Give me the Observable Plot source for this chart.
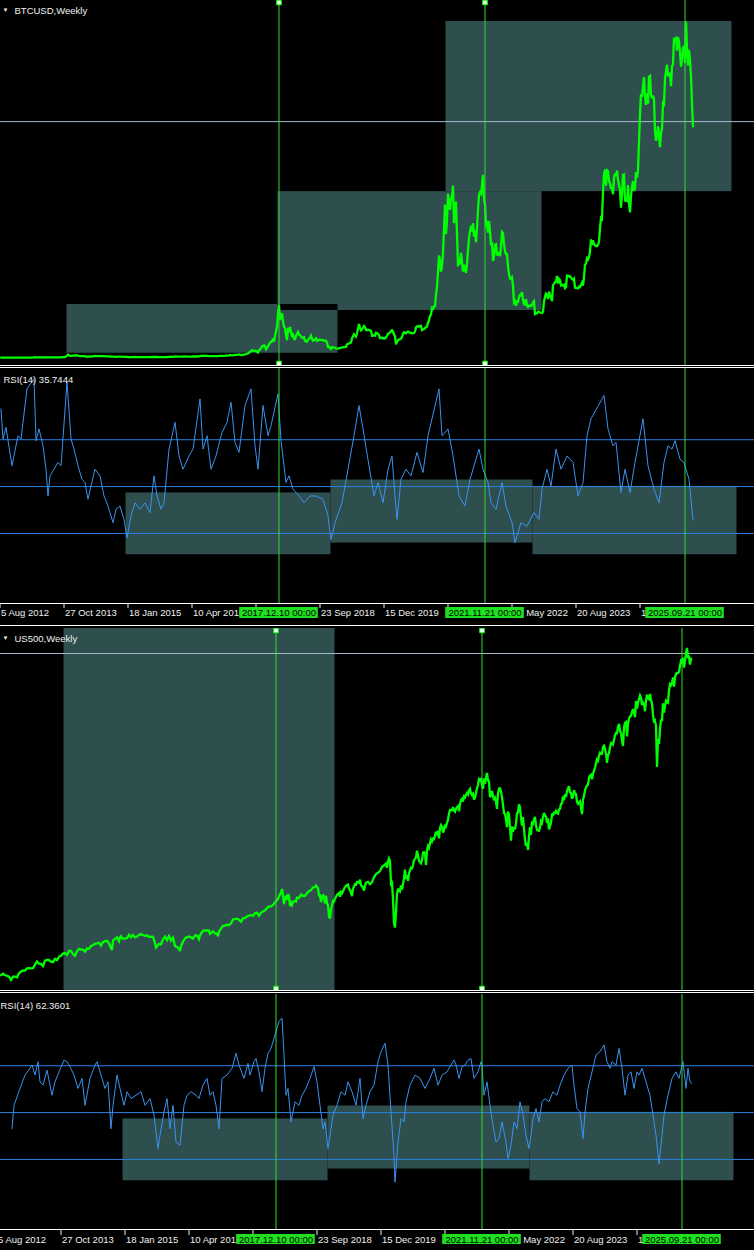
<!DOCTYPE html>
<html><head><meta charset="utf-8">
<script src="https://cdn.jsdelivr.net/npm/d3@7"></script>
<script src="https://cdn.jsdelivr.net/npm/@observablehq/plot@0.6"></script>
<style>
html,body{margin:0;padding:0;background:#000;}
#wrap{position:relative;width:754px;height:1250px;background:#000;overflow:hidden;}
.sep{position:absolute;left:0;width:754px;height:1px;background:#fff;}
</style></head><body><div id="wrap"></div>
<script>
// ---------- data ----------
const weekOrigin = "2012-08-12"; // week 0 of the series below (weekly bars)
const btcTitle = "BTCUSD,Weekly", btcRsiLabel = "RSI(14) 35.7444";
const spxTitle = "US500,Weekly", spxRsiLabel = "RSI(14) 62.3601";
const tickDates = ["2012-08-05","2013-10-27","2015-01-18","2016-04-10","2017-07-02","2018-09-23","2019-12-15","2021-03-07","2022-05-29","2023-08-20","2024-11-10"];
const hiddenTickLabels = ["2017-07-02","2021-03-07"]; // fully covered by the date tags
const markerDates = ["2017-12-10","2021-11-21","2025-09-21"];
const handleDates = ["2017-12-10","2021-11-21"];
const rsiLevels = [30, 50, 70];
const btcLevel = 87800;
const spxLevel = 6787;
const btcBoxes = [
  {from:"2013-11-17", to:"2019-01-27", low:1670, high:19785},
  {from:"2017-12-03", to:"2022-12-25", low:17550, high:61750},
  {from:"2021-02-21", to:"2026-08-16", low:61750, high:125030}
];
const spxBoxes = [{from:"2013-11-17", to:"2019-01-27"}];
const rsiBoxes = [
  {from:"2015-01-04", to:"2018-12-09", low:20.9, high:47.3},
  {from:"2018-12-09", to:"2022-10-23", low:25.9, high:52.8},
  {from:"2022-10-23", to:"2026-09-20", low:20.9, high:50.1}
];
// [week, price]
const btcWeekly = [[0,11.5],[4,11],[8,12],[13,11],[18,13.5],[22,15],[26,24],[30,46],[33,95],[34,190],[35,95],[37,125],[41,130],[44,100],[48,90],[51,105],[56,125],[60,125],[62,190],[64,250],[65,400],[66,800],[67,1100],[68,900],[69,680],[70,700],[72,800],[74,880],[76,820],[78,650],[80,560],[83,600],[85,450],[87,420],[89,440],[92,500],[94,650],[97,590],[100,620],[103,590],[105,500],[108,480],[110,400],[113,380],[116,330],[118,380],[120,370],[123,320],[126,270],[127,210],[129,225],[131,240],[134,275],[137,245],[140,225],[143,240],[146,230],[149,245],[151,270],[153,280],[156,265],[158,230],[161,230],[164,240],[166,265],[168,320],[169,380],[171,325],[173,390],[175,440],[177,430],[179,380],[181,370],[184,440],[187,415],[190,420],[193,460],[196,455],[198,530],[199,580],[200,680],[201,750],[202,650],[204,650],[206,660],[208,590],[211,575],[214,610],[217,620],[219,660],[221,710],[224,740],[226,780],[228,900],[229,1000],[230,900],[232,920],[234,1020],[236,1060],[238,1250],[240,960],[242,1080],[244,1200],[246,1450],[248,1800],[249,2200],[250,2400],[251,2800],[253,2500],[255,2500],[257,1950],[258,2750],[260,3400],[261,4200],[263,4600],[264,4300],[265,3200],[266,3700],[267,4300],[269,5600],[270,5900],[271,6000],[272,7200],[273,6000],[274,8000],[275,9800],[276,11500],[277,16500],[278,19700],[279,14000],[280,15500],[281,16500],[282,13500],[283,11500],[284,11000],[285,8200],[286,6500],[287,11000],[288,10300],[289,11400],[290,9500],[291,8200],[292,8600],[293,7000],[294,6900],[295,8000],[296,8900],[297,9600],[298,8700],[299,8400],[301,7400],[303,7600],[304,6200],[306,6000],[307,6700],[309,7400],[310,8200],[311,7000],[312,6300],[313,6500],[315,7200],[316,6300],[318,6700],[320,6600],[323,6400],[325,6300],[326,5600],[327,4000],[328,4100],[329,3500],[330,3200],[331,3900],[332,3900],[333,3800],[335,3500],[337,3400],[339,3600],[341,3800],[343,3900],[345,4000],[346,5000],[348,5300],[350,5700],[351,7200],[352,8000],[353,8700],[355,7800],[356,9000],[357,10800],[358,12500],[359,11200],[360,10200],[361,10500],[363,11800],[364,11300],[365,10300],[367,10300],[368,10300],[370,10000],[371,8100],[373,8300],[374,8200],[375,9300],[376,9200],[377,8800],[378,8500],[379,7300],[380,7400],[381,7500],[382,7100],[383,7300],[384,7200],[386,8100],[387,8900],[389,9300],[390,10000],[391,10200],[392,9700],[393,8600],[394,8000],[395,5000],[396,5900],[397,6400],[398,6800],[399,6900],[400,7100],[401,7700],[402,8900],[403,9500],[405,9100],[406,9500],[407,9700],[409,9300],[411,9100],[413,9200],[414,9700],[415,11300],[417,11800],[418,11600],[420,11900],[421,10300],[423,10700],[425,11300],[426,11500],[427,13000],[428,13800],[429,15500],[430,16000],[431,18500],[432,18200],[433,19200],[434,19200],[435,23500],[436,26500],[437,32000],[438,38000],[439,36000],[440,32000],[441,34000],[442,39000],[443,48000],[444,57000],[445,46000],[446,51000],[447,61000],[448,58000],[449,55000],[450,59000],[451,60000],[452,64000],[453,50000],[454,57000],[455,58000],[456,46000],[457,34000],[458,36000],[459,35500],[460,39000],[461,35500],[462,32000],[463,34500],[464,33500],[465,31500],[466,35000],[467,40000],[468,44500],[469,47000],[470,49000],[471,47000],[472,50000],[473,45000],[474,47500],[475,43000],[476,48000],[477,55000],[478,60500],[479,61500],[480,61000],[481,64000],[482,68000],[483,58500],[484,57000],[485,49500],[486,50000],[487,46500],[488,50800],[489,47000],[490,41800],[491,43000],[492,36000],[493,37800],[494,42000],[495,42200],[496,38000],[497,39000],[498,39000],[499,37800],[500,41300],[501,46800],[502,46400],[503,42200],[504,39700],[505,38500],[506,38500],[507,34000],[508,31300],[509,29400],[510,29500],[511,29900],[512,26600],[513,20500],[514,21000],[515,19300],[516,20800],[517,20800],[518,22500],[519,23300],[520,23200],[521,24400],[522,21500],[523,20000],[524,19800],[525,21800],[526,19400],[527,18900],[528,19300],[529,19400],[530,19200],[531,19600],[532,20600],[533,21000],[534,16300],[535,16600],[536,16500],[537,17100],[538,17100],[539,16800],[540,16800],[541,16600],[542,17100],[543,20900],[544,22700],[545,23800],[546,23300],[547,21800],[548,24600],[549,23200],[550,22400],[551,21000],[552,26900],[553,27500],[554,28100],[555,28300],[556,30400],[557,27600],[558,29300],[559,28900],[560,26900],[561,27100],[562,26800],[563,27100],[564,25900],[565,26300],[566,30500],[567,30500],[568,30200],[569,30300],[570,29800],[571,29300],[572,29000],[573,29400],[574,26100],[575,26000],[576,25900],[577,25800],[578,26500],[579,26300],[580,27000],[581,27900],[582,26800],[583,30000],[584,34500],[585,35000],[586,37000],[587,36500],[588,37400],[589,39500],[590,44000],[591,42000],[592,43700],[593,42300],[594,41700],[595,41600],[596,41500],[597,42000],[598,43000],[599,48300],[600,52000],[601,51600],[602,62000],[603,68300],[604,70000],[605,64000],[606,69700],[607,69400],[608,65700],[609,64900],[610,63100],[611,63000],[612,60800],[613,66900],[614,68500],[615,67500],[616,69600],[617,66200],[618,64200],[619,62700],[620,55800],[621,60800],[622,68000],[623,68200],[624,58100],[625,58700],[626,58400],[627,64200],[628,57300],[629,54000],[630,60000],[631,63600],[632,65600],[633,62100],[634,62900],[635,69000],[636,67000],[637,69500],[638,80400],[639,90500],[640,98000],[641,97000],[642,101000],[643,104300],[644,97300],[645,94000],[646,98300],[647,94500],[648,104500],[649,104800],[650,97700],[651,96500],[652,97500],[653,96300],[654,84400],[655,80700],[656,82600],[657,86100],[658,82300],[659,78300],[660,83700],[661,85200],[662,94700],[663,94300],[664,104000],[665,106400],[666,109000],[667,104600],[668,105700],[669,105600],[670,101000],[671,108300],[672,109200],[673,119000],[674,117300],[675,119400],[676,114200],[677,119300],[678,117500],[679,113500],[680,108200],[681,111100],[682,115300],[683,115700],[684,109600],[685,125000],[686,115000],[687,108700],[688,114500],[689,110600],[690,104700],[691,94000],[692,86000]];
const spxWeekly = [[3,1438],[5,1465],[7,1440],[9,1430],[11,1415],[13,1360],[15,1415],[17,1413],[19,1402],[21,1470],[23,1500],[25,1517],[27,1515],[29,1551],[31,1556],[33,1553],[35,1555],[37,1614],[39,1667],[41,1631],[43,1626],[45,1590],[47,1680],[49,1691],[51,1691],[53,1663],[55,1655],[57,1710],[59,1690],[61,1745],[63,1762],[65,1798],[67,1806],[69,1775],[71,1841],[73,1842],[75,1790],[77,1760],[79,1836],[81,1878],[83,1866],[85,1865],[87,1830],[89,1881],[91,1878],[93,1924],[95,1937],[97,1960],[99,1967],[101,1978],[103,1931],[105,1988],[107,2007],[109,2010],[111,1967],[113,1886],[114,1860],[115,2018],[117,2039],[119,2068],[121,2002],[122,2070],[123,2088],[124,2058],[125,2044],[127,2051],[129,2055],[131,2110],[133,2071],[135,2108],[137,2066],[139,2081],[141,2108],[143,2122],[145,2107],[147,2094],[149,2101],[151,2076],[153,2079],[155,2077],[157,1971],[158,1900],[159,1921],[161,1958],[163,1951],[165,2033],[167,2079],[169,2023],[171,2090],[173,2012],[175,2061],[177,1922],[179,1906],[181,1880],[182,1840],[183,1918],[185,1999],[187,2049],[189,2073],[191,2081],[193,2065],[195,2047],[197,2099],[199,2096],[201,2037],[202,2102],[203,2129],[205,2175],[207,2182],[209,2183],[211,2179],[212,2127],[213,2139],[215,2168],[217,2133],[219,2126],[220,2085],[221,2164],[223,2213],[225,2259],[227,2263],[229,2277],[231,2271],[233,2297],[235,2367],[237,2372],[239,2378],[241,2362],[243,2328],[245,2384],[247,2390],[249,2415],[251,2431],[253,2438],[255,2425],[257,2472],[259,2476],[261,2425],[263,2477],[265,2500],[267,2519],[269,2553],[271,2581],[273,2582],[275,2602],[277,2652],[279,2683],[281,2743],[282,2786],[283,2810],[284,2872],[285,2762],[286,2620],[287,2732],[288,2747],[289,2691],[290,2786],[291,2752],[292,2588],[293,2640],[294,2604],[295,2656],[296,2670],[297,2669],[298,2663],[299,2728],[301,2721],[303,2779],[305,2754],[307,2760],[309,2802],[311,2840],[313,2850],[315,2901],[317,2904],[318,2930],[320,2885],[321,2767],[322,2768],[323,2658],[324,2723],[325,2781],[326,2736],[327,2633],[328,2760],[329,2633],[330,2600],[331,2417],[332,2380],[333,2532],[334,2596],[335,2671],[336,2665],[337,2707],[339,2776],[341,2804],[342,2743],[343,2822],[344,2800],[345,2834],[347,2907],[349,2940],[350,2946],[351,2881],[352,2860],[354,2752],[355,2873],[357,2950],[358,2942],[359,2990],[361,2977],[362,3026],[363,2932],[364,2918],[365,2889],[366,2847],[367,2926],[368,2979],[370,2992],[372,2952],[374,2986],[376,3066],[378,3120],[380,3141],[382,3169],[384,3240],[386,3265],[388,3295],[389,3225],[390,3328],[391,3380],[392,3338],[393,2954],[394,2972],[395,2711],[396,2305],[397,2230],[398,2489],[399,2790],[400,2875],[401,2837],[402,2830],[403,2930],[404,2864],[405,2955],[406,3044],[407,3194],[408,3041],[409,3098],[410,3009],[411,3130],[412,3185],[413,3225],[414,3216],[415,3271],[416,3351],[417,3373],[418,3397],[419,3508],[420,3427],[421,3341],[422,3319],[423,3298],[424,3348],[425,3477],[426,3484],[427,3465],[428,3270],[429,3509],[430,3585],[431,3557],[432,3638],[433,3699],[434,3663],[435,3709],[436,3703],[437,3756],[438,3825],[439,3768],[440,3841],[441,3714],[442,3887],[443,3934],[444,3907],[445,3811],[446,3842],[447,3943],[448,3913],[449,3975],[450,4019],[451,4129],[452,4185],[453,4180],[454,4181],[455,4233],[456,4174],[457,4156],[458,4204],[459,4230],[460,4247],[461,4166],[462,4281],[463,4352],[464,4369],[465,4327],[466,4412],[467,4395],[468,4437],[469,4468],[470,4441],[471,4509],[472,4535],[473,4459],[474,4433],[475,4455],[476,4357],[477,4391],[478,4471],[479,4545],[480,4605],[481,4697],[482,4682],[483,4698],[484,4595],[485,4538],[486,4712],[487,4620],[488,4725],[489,4800],[490,4677],[491,4662],[492,4398],[493,4432],[494,4500],[495,4418],[496,4349],[497,4385],[498,4328],[499,4204],[500,4463],[501,4543],[502,4545],[503,4488],[504,4393],[505,4271],[506,4132],[507,4123],[508,4023],[509,3901],[510,4158],[511,4108],[512,3901],[513,3675],[514,3912],[515,3825],[516,3899],[517,3863],[518,3962],[519,4130],[520,4145],[521,4280],[522,4228],[523,4057],[524,3924],[525,4067],[526,3873],[527,3693],[528,3585],[529,3639],[530,3520],[531,3752],[532,3901],[533,3771],[534,3993],[535,3965],[536,4026],[537,4071],[538,3934],[539,3852],[540,3845],[541,3840],[542,3895],[543,3999],[544,3972],[545,4071],[546,4136],[547,4090],[548,4079],[549,3970],[550,4045],[551,3862],[552,3917],[553,3971],[554,4109],[555,4105],[556,4137],[557,4133],[558,4169],[559,4136],[560,4124],[561,4192],[562,4205],[563,4282],[564,4299],[565,4410],[566,4348],[567,4450],[568,4399],[569,4505],[570,4536],[571,4582],[572,4478],[573,4464],[574,4370],[575,4406],[576,4515],[577,4457],[578,4450],[579,4320],[580,4288],[581,4308],[582,4327],[583,4224],[584,4117],[585,4358],[586,4415],[587,4514],[588,4559],[589,4595],[590,4604],[591,4719],[592,4754],[593,4770],[594,4697],[595,4783],[596,4839],[597,4891],[598,4959],[599,5027],[600,5005],[601,5088],[602,5137],[603,5117],[604,5117],[605,5234],[606,5254],[607,5204],[608,5123],[609,4967],[610,5100],[611,5128],[612,5223],[613,5303],[614,5305],[615,5278],[616,5347],[617,5431],[618,5464],[619,5460],[620,5567],[621,5615],[622,5505],[623,5459],[624,5346],[625,5250],[626,5554],[627,5634],[628,5648],[629,5408],[630,5626],[631,5702],[632,5738],[633,5751],[634,5815],[635,5864],[636,5808],[637,5729],[638,5995],[639,5870],[640,5969],[641,6032],[642,6090],[643,6051],[644,5930],[645,5970],[646,5942],[647,5827],[648,5996],[649,6101],[650,6040],[651,6026],[652,6115],[653,6013],[654,5955],[655,5770],[656,5639],[657,5667],[658,5581],[659,4900],[660,5363],[661,5282],[662,5525],[663,5687],[664,5660],[665,5958],[666,5803],[667,5912],[668,6000],[669,5977],[670,5967],[671,6173],[672,6279],[673,6260],[674,6297],[675,6389],[676,6238],[677,6389],[678,6449],[679,6467],[680,6460],[681,6482],[682,6584],[683,6664],[684,6644],[685,6716],[686,6553],[687,6664],[688,6791],[689,6880],[690,6728],[691,6734],[692,6603],[693,6700]];
// [week, RSI(14)]
const btcRsi = [[0,83.2],[2,70.3],[5,75.3],[11,58.9],[17,71.7],[20,70.3],[26,91.7],[33,96.0],[35,69.6],[38,74.6],[42,67.4],[45,57.4],[47,46.0],[49,54.6],[53,57.4],[57,60.3],[60,58.9],[66,94.6],[70,70.3],[73,66.0],[77,58.9],[81,53.1],[84,51.7],[87,44.6],[90,50.3],[94,57.4],[99,54.6],[103,46.0],[107,41.7],[112,34.6],[115,40.3],[119,41.7],[123,36.0],[126,28.1],[130,37.4],[134,43.1],[139,40.3],[144,43.1],[149,38.9],[153,54.6],[156,46.0],[160,40.3],[163,43.1],[168,66.0],[174,77.4],[178,63.1],[182,57.4],[188,63.1],[192,66.0],[199,87.4],[202,66.0],[206,71.7],[210,57.4],[215,63.1],[221,73.1],[226,77.4],[230,86.0],[234,68.9],[238,64.6],[244,84.6],[250,91.7],[254,67.4],[257,57.4],[262,84.6],[267,71.7],[270,76.0],[277,89.6],[280,69.6],[285,51.7],[288,54.6],[292,48.9],[298,46.0],[303,43.1],[309,46.0],[315,46.0],[322,44.6],[327,37.4],[330,27.4],[334,34.6],[341,43.1],[347,57.4],[353,71.7],[358,84.6],[362,74.6],[368,58.9],[373,46.0],[377,51.7],[382,43.1],[387,57.4],[391,63.1],[394,46.0],[396,36.0],[400,53.1],[405,57.4],[410,54.6],[416,64.6],[422,56.0],[427,71.7],[438,91.7],[441,71.7],[447,74.6],[452,63.1],[458,46.0],[464,41.7],[469,53.1],[478,66.0],[482,57.4],[487,51.7],[490,43.1],[495,40.3],[501,51.7],[505,41.7],[511,34.6],[514,26.0],[520,34.6],[526,33.1],[533,38.9],[538,36.0],[541,48.9],[546,57.4],[550,50.3],[555,66.0],[560,57.4],[566,63.1],[572,60.3],[577,46.0],[582,51.7],[586,71.7],[590,78.9],[603,88.9],[607,74.6],[612,67.4],[615,68.9],[620,47.4],[624,57.4],[629,47.4],[634,60.3],[642,78.9],[647,58.9],[653,48.9],[658,43.1],[663,60.3],[667,67.4],[671,66.0],[674,69.6],[679,61.7],[683,60.3],[688,53.1],[692,35.7]];
const spxRsi = [[14,43.1],[16,53.1],[22,60.3],[27,66.0],[32,68.9],[34,70.3],[37,66.0],[40,71.7],[42,63.1],[45,61.7],[49,68.1],[54,57.4],[57,63.1],[61,67.4],[66,72.4],[69,71.7],[72,69.6],[76,66.0],[80,60.3],[84,64.6],[87,53.1],[92,64.6],[97,70.3],[99,71.7],[103,66.0],[107,60.3],[110,63.1],[113,43.1],[115,53.1],[119,66.0],[122,60.3],[126,53.1],[129,58.9],[133,56.0],[138,57.4],[143,58.9],[147,53.1],[152,56.0],[156,48.9],[160,34.6],[162,40.3],[166,50.3],[169,56.0],[172,43.1],[175,53.1],[178,37.4],[182,36.0],[186,53.1],[189,57.4],[193,58.9],[198,57.4],[201,56.0],[205,61.7],[209,64.6],[212,57.4],[215,58.9],[218,53.1],[221,43.1],[224,64.6],[229,66.0],[234,68.9],[238,75.3],[241,70.3],[246,64.6],[250,71.0],[252,66.0],[256,71.7],[258,73.1],[261,67.4],[264,58.9],[267,68.9],[270,75.3],[273,77.4],[276,81.7],[278,84.6],[281,88.9],[284,90.3],[286,74.6],[288,57.4],[290,60.3],[293,46.0],[297,54.6],[301,53.1],[304,57.4],[308,60.3],[312,64.6],[316,69.6],[319,63.1],[322,53.1],[325,43.1],[327,46.0],[330,34.6],[332,40.3],[335,48.9],[339,53.1],[343,58.9],[347,57.4],[350,63.1],[354,58.9],[358,53.1],[362,64.6],[365,47.4],[368,53.1],[372,58.9],[376,61.7],[380,71.7],[383,76.0],[387,79.6],[390,70.3],[393,50.3],[396,31.7],[397,20.3],[400,37.4],[403,47.4],[406,46.0],[408,54.6],[412,61.7],[417,66.0],[422,64.6],[427,60.3],[432,64.6],[436,68.9],[440,61.7],[444,66.0],[449,67.4],[453,70.3],[456,72.4],[458,70.3],[461,64.6],[464,69.6],[467,70.3],[470,72.4],[473,73.1],[476,64.6],[480,67.4],[483,71.7],[484,70.3],[486,57.4],[489,63.1],[492,53.1],[495,44.6],[498,37.4],[501,38.9],[504,46.0],[508,37.4],[510,30.3],[513,36.0],[516,46.0],[519,43.1],[522,54.6],[525,48.9],[528,40.3],[531,34.6],[533,40.3],[535,47.4],[538,51.7],[541,46.0],[544,54.6],[547,56.0],[551,54.6],[555,58.9],[559,57.4],[562,61.7],[566,66.0],[570,68.9],[574,70.3],[576,61.7],[579,51.7],[582,50.3],[585,38.9],[587,50.3],[590,60.3],[594,67.4],[598,74.6],[602,76.0],[606,78.9],[609,71.7],[612,68.9],[614,71.7],[618,70.3],[621,77.4],[624,68.9],[627,57.4],[630,66.0],[633,67.4],[636,60.3],[639,67.4],[641,66.0],[644,68.9],[648,63.1],[652,57.4],[656,46.0],[658,40.3],[661,28.1],[664,40.3],[666,48.9],[670,57.4],[674,64.6],[678,67.4],[681,64.6],[685,71.7],[688,60.3],[690,68.9],[692,63.1],[694,62.36]];

// ---------- helpers ----------
const WEEK = 6048e5;
const origin = new Date(weekOrigin + "T00:00:00Z");
const wk = w => new Date(+origin + w * WEEK);
const day = s => new Date(s + "T00:00:00Z");
const shiftWeeks = (d, w) => new Date(+d + w * WEEK);
const fmtTick = d3.utcFormat("%-d %b %Y");
const fmtMark = d3.utcFormat("%Y.%m.%d 00:00");
const ticks = tickDates.map(day), markers = markerDates.map(day), handles = handleDates.map(day);
const labelTicks = tickDates.filter(t => !hiddenTickLabels.includes(t)).map(day);

const C = {bg:"#000", box:"#2f4f4f", price:"#00ff00", rsi:"#3a93ef", level:"#2a80e0", vline:"#30dd30", hline:"#a6b9cc", text:"#f0f0f0", tag:"#1ee01e"};
const FONT = "'Liberation Sans', Arial, sans-serif";
const wrap = document.getElementById("wrap");

function overlapsOf(boxes) {
  const out = [];
  for (let i = 0; i < boxes.length; i++) for (let j = i + 1; j < boxes.length; j++) {
    const a = boxes[i], b = boxes[j];
    const x1 = Math.max(+a.x1, +b.x1), x2 = Math.min(+a.x2, +b.x2);
    const y1 = Math.max(a.y1, b.y1), y2 = Math.min(a.y2, b.y2);
    if (x2 > x1 && y2 > y1) out.push({x1: new Date(x1), x2: new Date(x2), y1, y2});
  }
  return out;
}
const toBox = b => ({x1: day(b.from), x2: day(b.to), y1: b.low, y2: b.high});

function place(node, top) {
  node.style.position = "absolute"; node.style.left = "0px"; node.style.top = top + "px";
  wrap.appendChild(node);
}
function sep(top) { const d = document.createElement("div"); d.className = "sep"; d.style.top = top + "px"; wrap.appendChild(d); }

function panel({top, height, xDomain, yDomain, marks}) {
  const svg = Plot.plot({
    width: 754, height, marginTop: 0, marginBottom: 0, marginLeft: 0, marginRight: 0,
    style: {background: "transparent", color: C.text, fontFamily: FONT, fontSize: "9.5px", overflow: "hidden"},
    x: {type: "utc", domain: xDomain, axis: null},
    y: yDomain ? {domain: yDomain, axis: null} : undefined,
    marks
  });
  place(svg, top);
}

function titleMarks(label, withArrow, dx, dy) {
  const m = [Plot.text([label], {text: d => d, frameAnchor: "top-left", dx: withArrow ? 14 : dx, dy, textAnchor: "start", fill: C.text, fontSize: 9.5})];
  if (withArrow) m.push(Plot.text(["\u25BC"], {text: d => d, frameAnchor: "top-left", dx: 2, dy: dy + 0.5, textAnchor: "start", fill: C.text, fontSize: 6}));
  return m;
}

function pricePanel({top, height, xDomain, yDomain, series, boxes, fullBoxes, level, title}) {
  const bx = boxes.map(toBox);
  panel({top, height, xDomain, yDomain, marks: [
    Plot.rect(bx, {x1: "x1", x2: "x2", y1: "y1", y2: "y2", fill: C.box}),
    Plot.barX(fullBoxes.map(b => ({x1: day(b.from), x2: day(b.to)})), {x1: "x1", x2: "x2", fill: C.box}),
    Plot.rect(overlapsOf(bx), {x1: "x1", x2: "x2", y1: "y1", y2: "y2", fill: C.bg}),
    Plot.ruleY([level], {stroke: C.hline, strokeWidth: 1}),
    Plot.line(series, {x: d => wk(d[0]), y: d => d[1], stroke: C.price, strokeWidth: 2.3, strokeLinejoin: "miter", strokeMiterlimit: 3}),
    Plot.ruleX(markers, {stroke: C.vline, strokeWidth: 1}),
    Plot.dot(handles, {x: d => d, frameAnchor: "top", dy: 2, symbol: "square", r: 2.6, fill: "#fff", stroke: C.price, strokeWidth: 1}),
    Plot.dot(handles, {x: d => d, frameAnchor: "bottom", dy: -2, symbol: "square", r: 2.6, fill: "#fff", stroke: C.price, strokeWidth: 1}),
    ...titleMarks(title, true, 0, 7)
  ]});
}

function rsiPanel({top, height, xDomain, series, label, labelDx}) {
  const bx = rsiBoxes.map(toBox);
  panel({top, height, xDomain, yDomain: [0.1, 100.4], marks: [
    Plot.rect(bx, {x1: "x1", x2: "x2", y1: "y1", y2: "y2", fill: C.box}),
    Plot.rect(overlapsOf(bx), {x1: "x1", x2: "x2", y1: "y1", y2: "y2", fill: C.bg}),
    Plot.ruleY(rsiLevels, {stroke: C.level, strokeWidth: 1}),
    Plot.line(series, {x: d => wk(d[0]), y: d => d[1], stroke: C.rsi, strokeWidth: 1}),
    Plot.ruleX(markers, {stroke: C.vline, strokeWidth: 1}),
    ...titleMarks(label, false, labelDx, 8)
  ]});
}

function axisPanel({top, height, mTop, mBottom, xDomain}) {
  const svg = Plot.plot({
    width: 754, height, marginTop: mTop, marginBottom: mBottom, marginLeft: 0, marginRight: 0,
    style: {background: "transparent", color: C.text, fontFamily: FONT, fontSize: "9.5px", overflow: "hidden"},
    x: {type: "utc", domain: xDomain, axis: null},
    marks: [
      Plot.axisX({anchor: "top", ticks, tickSize: mTop, tickFormat: () => "", stroke: C.text}),
      Plot.text(labelTicks, {x: d => d, text: d => fmtTick(d), frameAnchor: "middle", textAnchor: "start", dx: 1, fill: C.text}),
      Plot.barX(markers, {x1: d => shiftWeeks(d, -39.3), x2: d => shiftWeeks(d, 39.3), fill: C.tag}),
      Plot.text(markers, {x: d => d, text: d => fmtMark(d), frameAnchor: "middle", fill: "#000"})
    ]
  });
  place(svg, top);
}

// upper chart (BTCUSD) and lower chart (US500, scrolled 3 bars further)
const xUpper = [wk(-0.5), wk(753.5)];
const xLower = [wk(2.5), wk(756.5)];

pricePanel({top: 0, height: 365, xDomain: xUpper, yDomain: [-2900, 132838], series: btcWeekly, boxes: btcBoxes, fullBoxes: [], level: btcLevel, title: btcTitle});
sep(365); sep(367);
rsiPanel({top: 368, height: 235, xDomain: xUpper, series: btcRsi, label: btcRsiLabel, labelDx: 3});
sep(603);
axisPanel({top: 603, height: 22, mTop: 4, mBottom: 7, xDomain: xUpper});
sep(625);
pricePanel({top: 628, height: 362, xDomain: xLower, yDomain: [1184, 7203], series: spxWeekly, boxes: [], fullBoxes: spxBoxes, level: spxLevel, title: spxTitle});
sep(990); sep(992);
rsiPanel({top: 994, height: 235, xDomain: xLower, series: spxRsi, label: spxRsiLabel, labelDx: 0});
sep(1229);
axisPanel({top: 1229, height: 21, mTop: 5, mBottom: 6, xDomain: xLower});
</script></body></html>
